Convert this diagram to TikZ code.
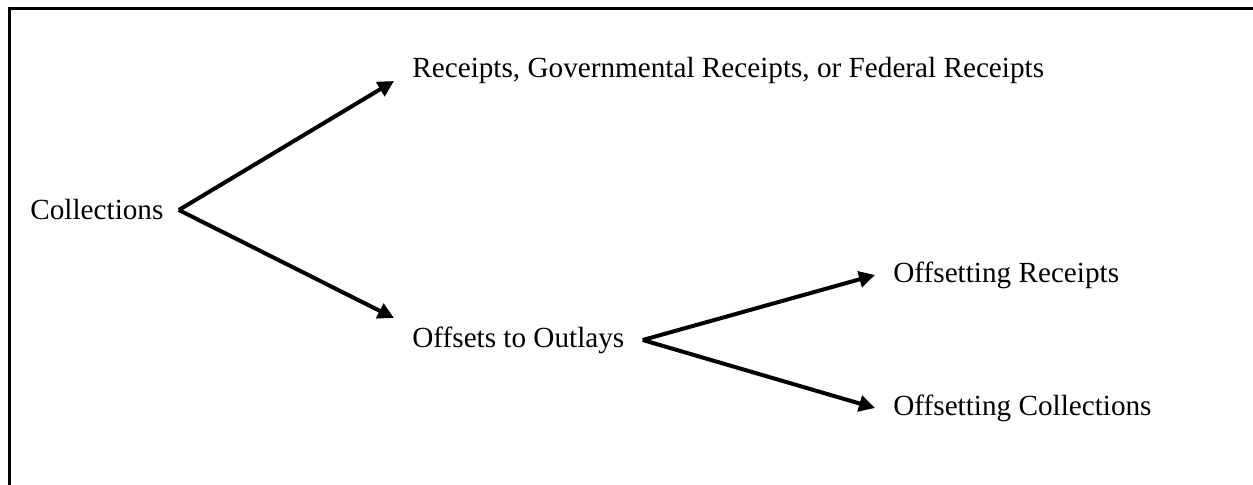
\documentclass[tikz,border=0pt]{standalone}
\usepackage{fontspec}
\setmainfont{Liberation Serif}
\usetikzlibrary{arrows.meta, positioning}

\begin{document}
\begin{tikzpicture}[
    x=0.5pt, y=-0.5pt,
    item/.style={anchor=west, inner xsep=9pt, inner ysep=2pt, font=\fontsize{14.6}{17}\selectfont},
    arrow/.style={-{Triangle[length=8pt, width=8pt]}, line width=2pt, black}
]
    \useasboundingbox (0,0) rectangle (1253,484);
    \clip (0,0) rectangle (1253,484);
    \draw[line width=1.8pt] (9.5,8.5) rectangle (1300,560);

    \node[item] (coll) at (12,210) {Collections};
    \node[item] (rec) at (394,70) {Receipts, Governmental Receipts, or Federal Receipts};
    \node[item] (off) at (394,340) {Offsets to Outlays};
    \node[item] (offrec) at (875,275) {Offsetting Receipts};
    \node[item] (offcol) at (875,408) {Offsetting Collections};

    \draw[arrow] ([xshift=-1.5pt]coll.east) -- ([yshift=-5.5pt]rec.west);
    \draw[arrow] ([xshift=-1.5pt]coll.east) -- ([yshift=11pt]off.west);
    \draw[arrow] (off.east) -- (offrec.west);
    \draw[arrow] (off.east) -- (offcol.west);
\end{tikzpicture}
\end{document}
